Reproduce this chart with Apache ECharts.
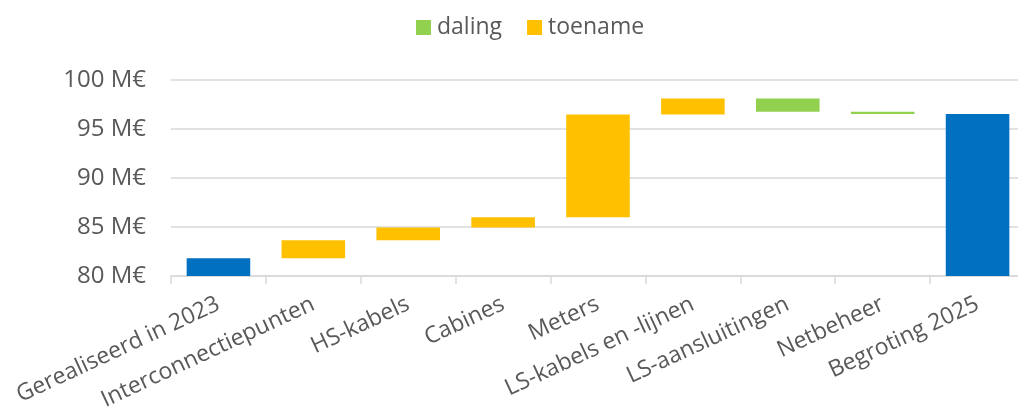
<!DOCTYPE html>
<html>
<head>
<meta charset="utf-8">
<script src="https://cdn.jsdelivr.net/npm/echarts@6/dist/echarts.min.js"></script>
<style>html,body{margin:0;padding:0;background:#fff;}#c{width:1018px;height:413px;}</style>
</head>
<body>
<div id="c"></div>
<script>
const categories = ['Gerealiseerd in 2023','Interconnectiepunten','HS-kabels','Cabines','Meters','LS-kabels en -lijnen','LS-aansluitingen','Netbeheer','Begroting 2025'];
const totals  = [81.8, null, null, null, null, null, null, null, 96.53];
const toename = [null, 1.85, 1.29, 1.05, 10.48, 1.63, null, null, null];
const daling  = [null, null, null, null, null, null, 1.33, 0.24, null];
const yTicks = [80, 85, 90, 95, 100];

// invisible base for the floating bars
const base = [];
let running = 0;
for (let i = 0; i < categories.length; i++) {
  if (totals[i] != null) { running = totals[i]; base.push('-'); continue; }
  if (toename[i] != null) { base.push(running); running += toename[i]; }
  else if (daling[i] != null) { running -= daling[i]; base.push(running); }
  else base.push('-');
}
const dash = a => a.map(v => v == null ? '-' : v);

const font = 'Open Sans';
const txt = '#595959';
const chart = echarts.init(document.getElementById('c'), null, {renderer: 'canvas'});
chart.setOption({
  animation: false,
  textStyle: {fontFamily: font},
  legend: {
    data: ['daling', 'toename'],
    left: 411, top: 11,
    itemWidth: 15, itemHeight: 15, itemGap: 25,
    icon: 'rect',
    textStyle: {fontFamily: font, fontSize: 23, color: txt, padding: [0,0,0,1]}
  },
  grid: {left: 171, top: 80, right: -7, bottom: 137, containLabel: false, outerBoundsMode: 'none'},
  xAxis: {
    type: 'category', data: categories,
    axisLine: {lineStyle: {color: '#d9d9d9', width: 1.5}},
    axisTick: {show: true, length: 8, lineStyle: {color: '#d9d9d9', width: 1.5}},
    axisLabel: {rotate: 25, margin: 27, fontFamily: font, fontSize: 23, color: txt, interval: 0}
  },
  yAxis: {
    type: 'value', min: 80, max: 100, interval: 5,
    axisLine: {show: false}, axisTick: {show: false},
    splitLine: {lineStyle: {color: '#d9d9d9', width: 1.5}},
    axisLabel: {margin: 25, fontFamily: font, fontSize: 24, color: txt,
      formatter: v => yTicks.includes(v) ? v + ' M€' : ''}
  },
  series: [
    {name: 'base', type: 'bar', stack: 'w', barWidth: '67%', data: base,
     itemStyle: {color: 'transparent'}, silent: true},
    {name: 'totaal', type: 'bar', stack: 'w', barWidth: '67%', data: dash(totals),
     itemStyle: {color: '#0070C0'}},
    {name: 'daling', type: 'bar', stack: 'w', barWidth: '67%', data: dash(daling),
     itemStyle: {color: '#92D050'}},
    {name: 'toename', type: 'bar', stack: 'w', barWidth: '67%', data: dash(toename),
     itemStyle: {color: '#FFC000'}}
  ]
});
</script>
</body>
</html>
